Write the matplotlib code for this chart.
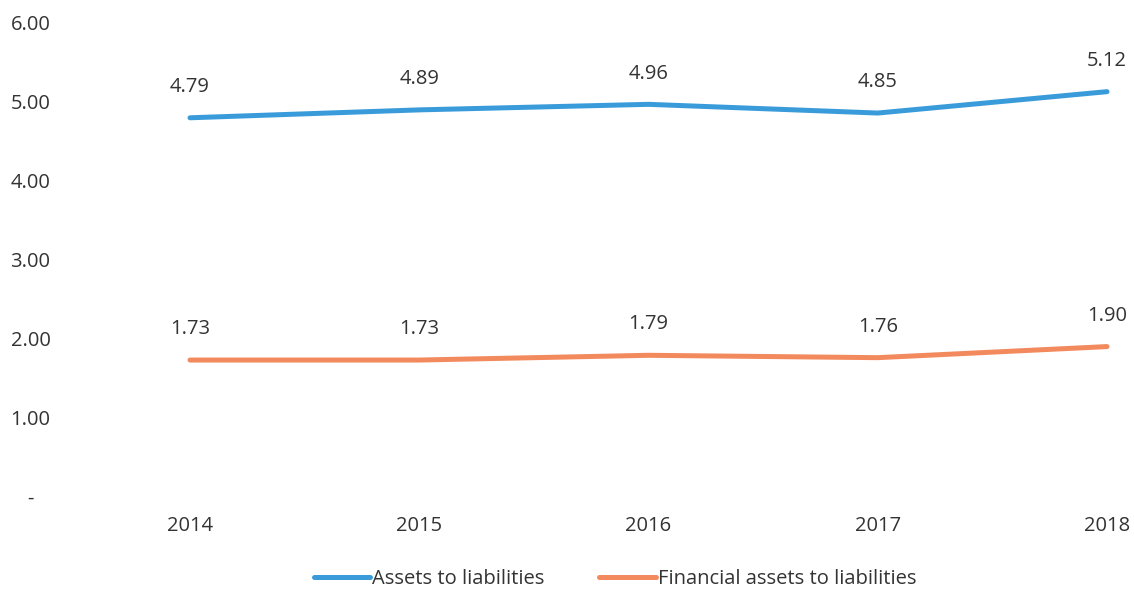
import matplotlib
matplotlib.use("Agg")
import matplotlib.pyplot as plt
from matplotlib.ticker import FixedLocator, FuncFormatter

years = ["2014", "2015", "2016", "2017", "2018"]
assets_to_liabilities = [4.79, 4.89, 4.96, 4.85, 5.12]
financial_assets_to_liabilities = [1.73, 1.73, 1.79, 1.76, 1.90]
y_ticks = [0, 1, 2, 3, 4, 5, 6]

BLUE = "#3A9BDA"
ORANGE = "#F28A5E"
TEXT = "#333333"

plt.rcParams["font.family"] = ["Open Sans", "DejaVu Sans"]

fig = plt.figure(figsize=(11.34, 5.90), dpi=100)
ax = fig.add_axes([70 / 1134, (590 - 497) / 590, (1134 - 70) / 1134, (497 - 22) / 590])

x = list(range(len(years)))
ax.plot(x, assets_to_liabilities, color=BLUE, lw=3.6, solid_capstyle="round",
        label="Assets to liabilities")
ax.plot(x, financial_assets_to_liabilities, color=ORANGE, lw=3.6, solid_capstyle="round",
        label="Financial assets to liabilities")

for series in (assets_to_liabilities, financial_assets_to_liabilities):
    for xi, v in zip(x, series):
        ax.annotate(f"{v:.2f}", (xi, v), xytext=(0, 15), textcoords="offset points",
                    ha="center", va="bottom", fontsize=14.5, color=TEXT)

ax.set_xlim(-120 / 229.25, 4 + 27 / 229.25)
ax.set_ylim(0, 6)
ax.set_xticks(x)
ax.set_xticklabels(years)
ax.yaxis.set_major_locator(FixedLocator(y_ticks))
ax.yaxis.set_major_formatter(FuncFormatter(lambda v, _: "-   " if v == 0 else f"{v:.2f}"))

for s in ax.spines.values():
    s.set_visible(False)
ax.tick_params(axis="both", length=0, labelsize=14.5, labelcolor=TEXT)
ax.tick_params(axis="y", pad=14)
ax.tick_params(axis="x", pad=13.5)

fig.legend(loc="center", bbox_to_anchor=(615 / 1134, 1 - 579 / 590), ncol=2,
           frameon=False, fontsize=14.5, handlelength=2.8, handletextpad=0.1,
           columnspacing=2.7, labelcolor=TEXT)

fig.savefig("out.png", dpi=100, facecolor="white")
